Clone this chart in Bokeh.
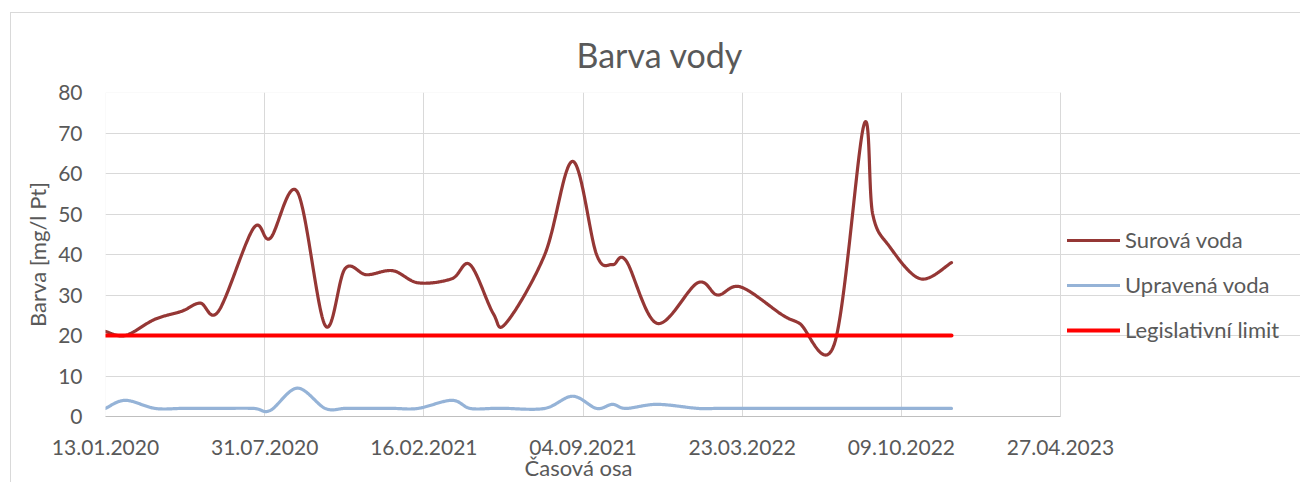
import numpy as np
from bokeh.plotting import figure
from bokeh.models import (Range1d, FixedTicker, DatetimeTickFormatter, Legend, LegendItem,
                          BoxAnnotation, Title)
from bokeh.embed import file_html
from bokeh.resources import INLINE

# ---------------- data ----------------
dates = ["2020-01-13", "2020-02-07", "2020-03-15", "2020-04-18", "2020-05-11", "2020-06-03",
         "2020-07-17", "2020-08-07", "2020-09-10", "2020-10-15", "2020-11-09", "2020-12-06",
         "2021-01-08", "2021-02-09", "2021-03-23", "2021-04-15", "2021-05-14", "2021-05-30",
         "2021-07-18", "2021-08-22", "2021-09-21", "2021-10-11", "2021-10-28", "2021-12-06",
         "2022-01-26", "2022-02-20", "2022-03-21", "2022-05-13", "2022-06-03", "2022-07-17",
         "2022-08-23", "2022-09-03", "2022-09-24", "2022-11-02", "2022-12-11"]
surova_voda = [21, 20, 24, 26, 28, 26,
               46.5, 44, 55.5, 22.5, 36.5, 35,
               36, 33, 34, 37.5, 25.5, 23,
               40, 63, 40, 37.5, 38.5, 23,
               33, 30, 32, 25, 23, 18,
               72, 50, 42, 34, 38]
upravena_voda = [2, 4, 2, 2, 2, 2,
                 2, 1.5, 7, 2, 2, 2,
                 2, 2, 4, 2, 2, 2,
                 2, 5, 2, 3, 2, 3,
                 2, 2, 2, 2, 2, 2,
                 2, 2, 2, 2, 2]
legislativni_limit = [20] * len(dates)

x_tick_dates = ["2020-01-13", "2020-07-31", "2021-02-16", "2021-09-04",
                "2022-03-23", "2022-10-09", "2023-04-27"]
y_ticks = [0, 10, 20, 30, 40, 50, 60, 70, 80]

series_names = ["Surová voda", "Upravená voda", "Legislativní limit"]
title_text = "Barva vody"
x_label = "Časová osa"
y_label = "Barva [mg/l Pt]"


# ---------------- helpers ----------------
def to_ms(ds):
    return np.array(ds, dtype="datetime64[ms]").astype("int64").astype(float)


def excel_smooth(x, y, n=40):
    """Excel-like smoothed line (Catmull-Rom Bezier through the data points)."""
    P = np.column_stack([x, y]).astype(float)
    m = len(P)
    xs, ys = [], []
    for i in range(m - 1):
        p0 = P[max(i - 1, 0)]
        p1, p2 = P[i], P[i + 1]
        p3 = P[min(i + 2, m - 1)]
        c1 = p1 + (p2 - p0) / 6.0
        c2 = p2 - (p3 - p1) / 6.0
        t = np.linspace(0, 1, n, endpoint=(i == m - 2))[:, None]
        B = ((1 - t) ** 3) * p1 + 3 * ((1 - t) ** 2) * t * c1 + 3 * (1 - t) * t ** 2 * c2 + t ** 3 * p2
        xs.extend(B[:, 0].tolist())
        ys.extend(B[:, 1].tolist())
    return xs, ys


x_ms = to_ms(dates)
tick_ms = to_ms(x_tick_dates)
x0, x1 = tick_ms[0], tick_ms[-1]

FONT = "Lato"
TXT = "#595959"
GRID = "#D9D9D9"

W, H = 1290, 470
LEFT, TOP, BOTTOM = 94, 77, 67
PLOT_W = 955                      # width of the plot area (13.01.2020 .. 27.04.2023)
FRAME_W = W - LEFT                # frame extends to the right edge to hold the legend
x_end = x0 + (x1 - x0) * FRAME_W / PLOT_W

p = figure(width=W, height=H, x_axis_type="datetime", output_backend="svg",
           toolbar_location=None,
           x_range=Range1d(x0, x_end), y_range=Range1d(0, 80),
           min_border_left=LEFT, min_border_right=0, min_border_top=TOP, min_border_bottom=BOTTOM)
p.styles = {"margin-left": "10px", "margin-top": "12px",
            "border-left": "1px solid #D9D9D9", "border-top": "1px solid #D9D9D9"}

p.background_fill_color = "white"
p.border_fill_color = "white"
p.outline_line_color = None

# plot area border
p.add_layout(BoxAnnotation(left=x0, right=x1, bottom=0, top=80, fill_alpha=0,
                           line_color=GRID, line_width=1, level="underlay"))

# title
p.title.text = title_text
p.title.align = "left"
p.title.offset = 471
p.title.standoff = 36
p.title.text_font = FONT
p.title.text_font_size = "34px"
p.title.text_font_style = "normal"
p.title.text_color = TXT

# axes
p.xaxis.ticker = FixedTicker(ticks=tick_ms.tolist())
p.xaxis.formatter = DatetimeTickFormatter(days="%d.%m.%Y", months="%d.%m.%Y", years="%d.%m.%Y")
p.xaxis.bounds = (x0, x1)
p.yaxis.ticker = FixedTicker(ticks=y_ticks)
for ax in (p.xaxis, p.yaxis):
    ax.major_tick_line_color = None
    ax.minor_tick_line_color = None
    ax.major_tick_out = 0
    ax.major_tick_in = 0
    ax.minor_tick_out = 0
    ax.major_label_text_font = FONT
    ax.major_label_text_font_size = "21px"
    ax.major_label_text_color = TXT
    ax.axis_label_text_font = FONT
    ax.axis_label_text_font_size = "22px"
    ax.axis_label_text_font_style = "normal"
    ax.axis_label_text_color = TXT
p.xaxis.axis_line_color = "#BFBFBF"
p.xaxis.axis_line_width = 1
p.yaxis.axis_line_color = None
p.xaxis.major_label_standoff = 23
p.yaxis.major_label_standoff = 23
p.yaxis.axis_label = y_label
p.yaxis.axis_label_standoff = 4

# x-axis title, centred under the plot area (not under the legend)
p.add_layout(Title(text=x_label, align="left", offset=419, standoff=-11, vertical_align="bottom",
                   text_font=FONT, text_font_size="22px", text_font_style="normal",
                   text_color=TXT), "below")

p.xgrid.ticker = FixedTicker(ticks=tick_ms.tolist())
p.ygrid.ticker = FixedTicker(ticks=y_ticks)
p.ygrid.bounds = (x0, x1)
p.xgrid.grid_line_color = GRID
p.ygrid.grid_line_color = GRID
p.xgrid.grid_line_width = 1
p.ygrid.grid_line_width = 1

# series
sx, sy = excel_smooth(x_ms, surova_voda)
ux, uy = excel_smooth(x_ms, upravena_voda)
r1 = p.line(sx, sy, line_color="#953735", line_width=3.2, line_join="round", line_cap="round")
r2 = p.line(ux, uy, line_color="#95B3D7", line_width=3.2, line_join="round", line_cap="round")
r3 = p.line(x_ms, legislativni_limit, line_color="#FF0000", line_width=4.2, line_cap="round")

legend = Legend(items=[LegendItem(label=series_names[0], renderers=[r1]),
                       LegendItem(label=series_names[1], renderers=[r2]),
                       LegendItem(label=series_names[2], renderers=[r3])],
                location=(962, 73), orientation="vertical",
                padding=0, margin=0, spacing=18,
                glyph_width=53, glyph_height=20, label_height=20, label_standoff=5,
                border_line_color=None, background_fill_alpha=0,
                label_text_font=FONT, label_text_font_size="22px", label_text_color=TXT)
p.add_layout(legend)

open("out.html", "w").write(file_html(p, INLINE))
